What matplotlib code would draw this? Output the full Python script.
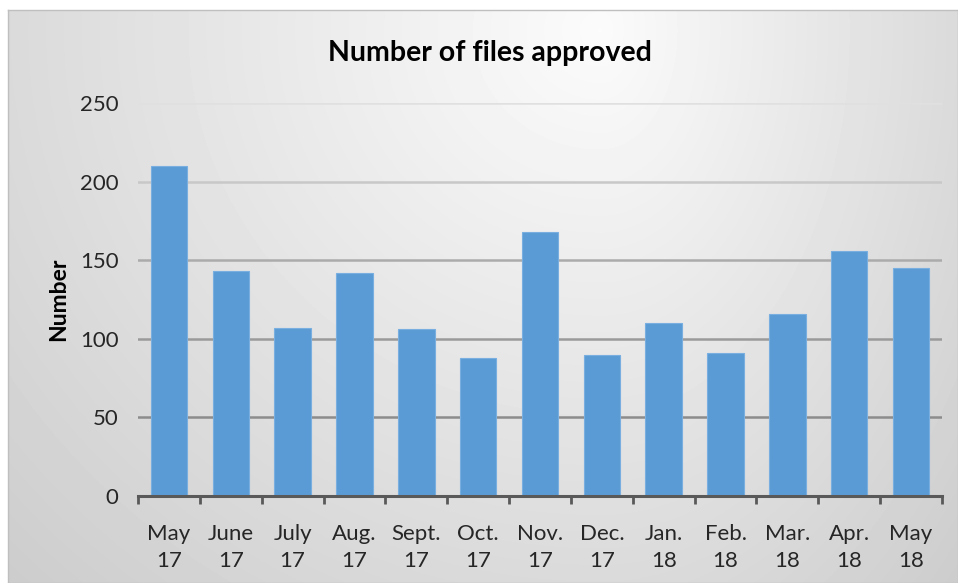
import numpy as np
import matplotlib
matplotlib.use("Agg")
import matplotlib.pyplot as plt
from matplotlib.ticker import FixedLocator

# data
months = ["May\n17", "June\n17", "July\n17", "Aug.\n17", "Sept.\n17", "Oct.\n17", "Nov.\n17",
          "Dec.\n17", "Jan.\n18", "Feb.\n18", "Mar.\n18", "Apr.\n18", "May\n18"]
approved = [210, 143, 107, 142, 106, 88, 168, 90, 110, 91, 116, 156, 145]
y_ticks = [0, 50, 100, 150, 200, 250]

plt.rcParams['font.family'] = ['Lato', 'DejaVu Sans']

W, H = 958, 583
fig = plt.figure(figsize=(W / 100, H / 100), dpi=100)
fig.patch.set_facecolor("white")

# gradient background of the chart box
bg = fig.add_axes([8 / W, 0, (W - 8) / W, (H - 10) / H], zorder=0)
gx, gy = np.meshgrid(np.arange(8, W), np.arange(10, H))
cx, cy = 600.0, 30.0
wx = np.where(gx < cx, cx - 8, W - cx)
wy = H - cy
d = np.sqrt(((gx - cx) / wx) ** 2 + ((gy - cy) / wy) ** 2)
val = np.clip(0.985 - 0.13 * d, 0, 1)
bg.imshow(val, cmap="gray", vmin=0, vmax=1, aspect="auto", interpolation="bilinear")
bg.set_xticks([])
bg.set_yticks([])
for s in bg.spines.values():
    s.set_color("#bfbfbf")
    s.set_linewidth(1)

# main plot area
L, R, B, T = 138, 942, 496, 103
ax = fig.add_axes([L / W, 1 - B / H, (R - L) / W, (B - T) / H], zorder=1)
ax.patch.set_alpha(0)

x = np.arange(len(months))
ax.bar(x, approved, width=0.59, color="#5b9bd5", edgecolor="#78aee0", linewidth=0.8, zorder=3)

ax.set_xlim(-0.5, len(months) - 0.5)
ax.set_ylim(0, 250)

# gridlines, darker toward the bottom like the original
grid_cols = {50: "#8c8c8c", 100: "#9a9a9a", 150: "#ababab", 200: "#c8c8c8", 250: "#e0e0e0"}
for v, c in grid_cols.items():
    ax.axhline(v, color=c, linewidth=1.8, zorder=1)

for side in ["top", "right", "left"]:
    ax.spines[side].set_visible(False)
ax.spines["bottom"].set_color("#595959")
ax.spines["bottom"].set_linewidth(2.2)
ax.spines["bottom"].set_zorder(4)

ax.set_xticks(x)
ax.set_xticklabels(months, fontsize=16, color="#262626", linespacing=1.45)
ax.tick_params(axis="x", which="major", length=0, pad=20)
ax.xaxis.set_minor_locator(FixedLocator(np.arange(-0.5, len(months), 1.0)))
ax.tick_params(axis="x", which="minor", length=6, width=2, color="#595959", direction="out")

ax.set_yticks(y_ticks)
ax.set_yticklabels([str(v) for v in y_ticks], fontsize=16, color="#262626")
ax.tick_params(axis="y", length=0, pad=14)

ax.set_ylabel("Number", fontsize=16.5, fontweight="bold", color="black")
ax.yaxis.set_label_coords(-0.086, 0.5)

fig.text(490 / W, 1 - 53 / H, "Number of files approved", ha="center", va="center",
         fontsize=20.5, fontweight="bold", color="black")

fig.savefig("out.png", dpi=100)
